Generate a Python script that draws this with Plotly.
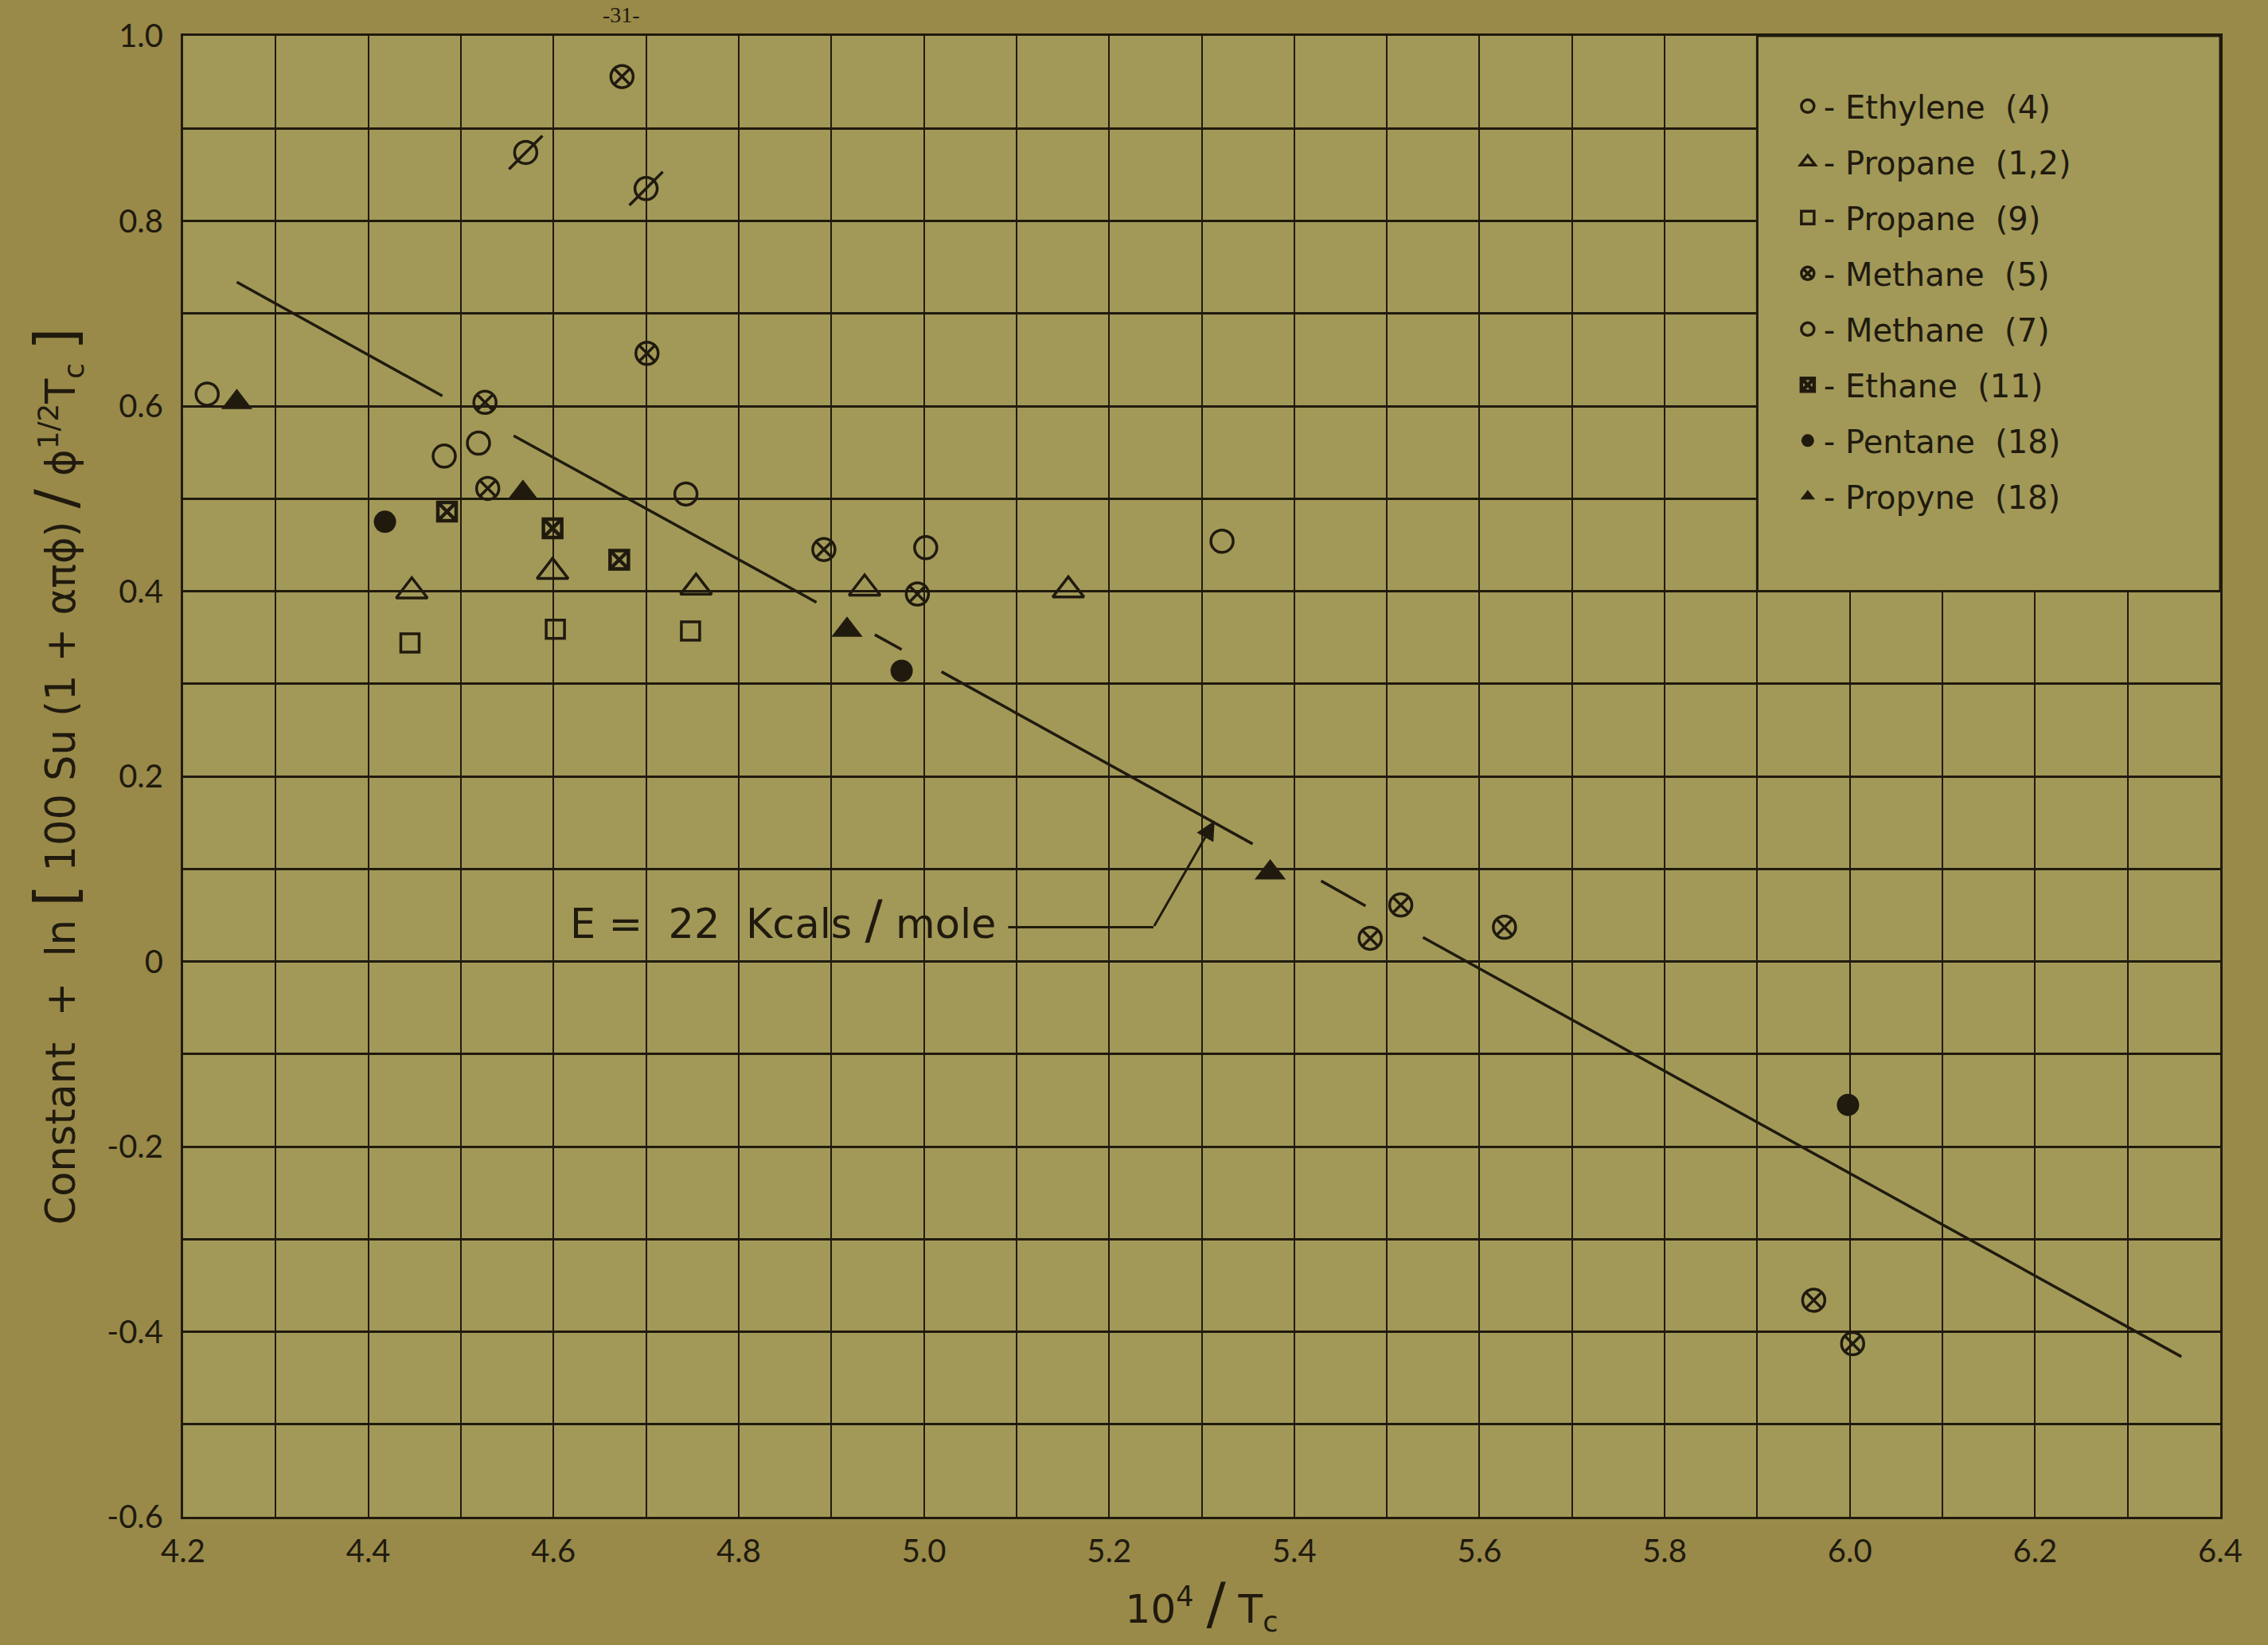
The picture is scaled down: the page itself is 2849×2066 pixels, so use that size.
import plotly.graph_objects as go

# ---------------- data ----------------
ethylene_x = [4.226, 4.482, 4.519, 4.743, 5.002, 5.322]
ethylene_y = [0.613, 0.546, 0.560, 0.505, 0.447, 0.454]

propane12_x = [4.447, 4.599, 4.754, 4.936, 5.156]
propane12_y = [0.400, 0.421, 0.404, 0.403, 0.401]

propane9_x = [4.445, 4.602, 4.748]
propane9_y = [0.344, 0.359, 0.357]

methane5_x = [4.674, 4.701, 4.526, 4.529, 4.892, 4.993, 5.482, 5.515, 5.627, 5.961, 6.003]
methane5_y = [0.956, 0.657, 0.604, 0.511, 0.445, 0.397, 0.025, 0.061, 0.037, -0.366, -0.413]

methane7_x = [4.570, 4.700]
methane7_y = [0.874, 0.835]

ethane_x = [4.485, 4.599, 4.671]
ethane_y = [0.486, 0.468, 0.434]

pentane_x = [4.418, 4.976, 5.998]
pentane_y = [0.475, 0.314, -0.155]

propyne_x = [4.258, 4.567, 4.917, 5.374]
propyne_y = [0.604, 0.506, 0.358, 0.096]

# broken fitted line (E = 22 kcal/mole), segment end points
fit_x = [4.258, 4.480, None, 4.557, 4.884, None, 4.947, 4.976, None,
         5.019, 5.355, None, 5.429, 5.477, None, 5.539, 6.358]
fit_y = [0.734, 0.611, None, 0.568, 0.388, None, 0.353, 0.337, None,
         0.313, 0.127, None, 0.087, 0.060, None, 0.026, -0.427]

# annotation leader
leader_x = [5.091, 5.248]
leader_y = [0.037, 0.037]
arrow_tip = (5.314, 0.152)
label_pos = (5.080, 0.045)

x_ticks = [4.2, 4.4, 4.6, 4.8, 5.0, 5.2, 5.4, 5.6, 5.8, 6.0, 6.2, 6.4]
x_labels = ["4.2", "4.4", "4.6", "4.8", "5.0", "5.2", "5.4", "5.6", "5.8", "6.0", "6.2", "6.4"]
y_ticks = [-0.6, -0.4, -0.2, 0.0, 0.2, 0.4, 0.6, 0.8, 1.0]
y_labels = ["-0.6", "-0.4", "-0.2", "0", "0.2", "0.4", "0.6", "0.8", "1.0"]

legend_box = (5.9, 0.4, 6.4, 1.0)

# ---------------- style ----------------
INK = "#201a0e"
PAPER = "#998a49"
PLOT = "#a29958"
FONT = "Lato, DejaVu Sans, sans-serif"
WFONT = "DejaVu Sans, sans-serif"

fig = go.Figure()


def add(x, y, name, symbol, size, lw=3.5, group=None, showlegend=True):
    fig.add_trace(go.Scatter(
        x=x, y=y, mode="markers", name=name,
        legendgroup=group or name, showlegend=showlegend,
        marker=dict(symbol=symbol, size=size, color=INK,
                    line=dict(color=INK, width=lw)),
    ))


add(ethylene_x, ethylene_y, "- Ethylene  (4)", "circle-open", 28)
add(propane12_x, propane12_y, "- Propane  (1,2)", "triangle-up-open", 34)
add(propane9_x, propane9_y, "- Propane  (9)", "square-open", 23)
add(methane5_x, methane5_y, "- Methane  (5)", "circle-x-open", 28)
add(methane7_x, methane7_y, "- Methane  (7)", "circle-open", 28)
add(methane7_x, methane7_y, "Methane (7) slash", "line-ne-open", 42,
    group="- Methane  (7)", showlegend=False)
add(ethane_x, ethane_y, "- Ethane  (11)", "square-x-open", 23, lw=4.5)
add(pentane_x, pentane_y, "- Pentane  (18)", "circle", 28, lw=0)
add(propyne_x, propyne_y, "- Propyne  (18)", "triangle-up", 34, lw=0)

fig.add_trace(go.Scatter(x=fit_x, y=fit_y, mode="lines", showlegend=False,
                         line=dict(color=INK, width=3.5), connectgaps=False,
                         hoverinfo="skip"))
fig.add_trace(go.Scatter(x=leader_x, y=leader_y, mode="lines", showlegend=False,
                         line=dict(color=INK, width=3), hoverinfo="skip"))

# blank legend panel (covers the grid)
fig.add_shape(type="rect", xref="x", yref="y",
              x0=legend_box[0], y0=legend_box[1], x1=legend_box[2], y1=legend_box[3],
              fillcolor=PLOT, line=dict(color=INK, width=3), layer="above")

fig.add_annotation(x=label_pos[0], y=label_pos[1], xref="x", yref="y",
                   xanchor="right", yanchor="middle", showarrow=False,
                   text="E =  22  Kcals <span style='font-size:66px'>/</span> mole",
                   font=dict(family=WFONT, size=51, color=INK))
fig.add_annotation(x=arrow_tip[0], y=arrow_tip[1], ax=leader_x[1], ay=leader_y[1],
                   xref="x", yref="y", axref="x", ayref="y", text="",
                   showarrow=True, arrowhead=2, arrowsize=1.6, arrowwidth=3,
                   arrowcolor=INK)
fig.add_annotation(x=0.215, y=1.0, xref="paper", yref="paper", yanchor="top",
                   xanchor="center", showarrow=False, text="-31-",
                   yshift=44,
                   font=dict(family="Liberation Serif, serif", size=28, color=INK))

axis_common = dict(showgrid=True, gridcolor=INK, zeroline=False,
                   showline=True, mirror=True, linecolor=INK, linewidth=3,
                   ticks="outside", tickcolor="rgba(0,0,0,0)", tickmode="array",
                   tickfont=dict(family=FONT, size=40, color=INK))

fig.update_layout(
    width=2849, height=2066, autosize=False,
    margin=dict(l=230, r=60, t=45, b=161),
    paper_bgcolor=PAPER, plot_bgcolor=PLOT,
    font=dict(family=FONT, color=INK),
    xaxis=dict(range=[4.2, 6.4], tickvals=x_ticks, ticktext=x_labels,
               gridwidth=2, ticklen=6,
               minor=dict(tickmode="linear", tick0=4.2, dtick=0.1, showgrid=True,
                          gridcolor=INK, gridwidth=2, ticks=""),
               title=dict(text="10<sup>4</sup> <span style='font-size:72px'>/</span> T<sub>c</sub>",
                          font=dict(family=WFONT, size=50, color=INK), standoff=12),
               **axis_common),
    yaxis=dict(range=[-0.6, 1.0], tickvals=y_ticks, ticktext=y_labels,
               gridwidth=3, ticklen=14,
               minor=dict(tickmode="linear", tick0=-0.6, dtick=0.1, showgrid=True,
                          gridcolor=INK, gridwidth=3, ticks=""),
               title=dict(text="Constant  +  ln <span style='font-size:72px'>[</span> 100 Su (1 + απϕ) "
                               "<span style='font-size:72px'>/</span> ϕ<sup>1/2</sup>T<sub>c</sub> "
                               "<span style='font-size:72px'>]</span>",
                          font=dict(family=WFONT, size=51, color=INK), standoff=24),
               **axis_common),
    legend=dict(x=0.7897, y=0.9700, xanchor="left", yanchor="top",
                bgcolor="rgba(0,0,0,0)", borderwidth=0,
                font=dict(family=WFONT, size=40, color=INK),
                tracegroupgap=15, traceorder="grouped", itemsizing="trace"),
)

fig.write_html(
    "out.html",
    config={"displayModeBar": False},
    post_script="document.body.style.margin='0';document.body.style.background='%s';" % PAPER,
)
